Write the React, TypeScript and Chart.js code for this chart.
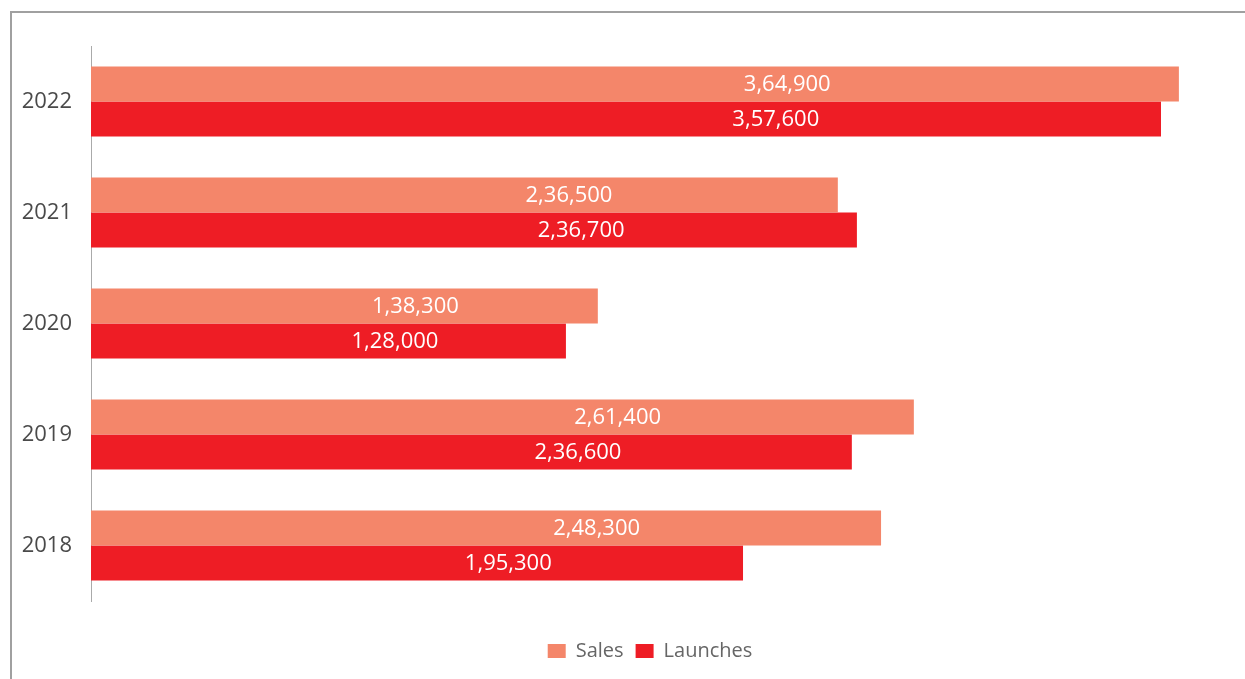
import React, { useEffect, useRef } from "react";
import { Chart, registerables } from "chart.js";
Chart.register(...registerables);

const years = ["2022", "2021", "2020", "2019", "2018"];
const salesValues = [364900, 250500, 170000, 276000, 265000];
const launchValues = [358900, 256900, 159300, 255200, 218700];
const salesLabels = ["3,64,900", "2,36,500", "1,38,300", "2,61,400", "2,48,300"];
const launchLabels = ["3,57,600", "2,36,700", "1,28,000", "2,36,600", "1,95,300"];

const SALES_COLOR = "#F4866A";
const LAUNCH_COLOR = "#EE1D25";
const FONT = "'Open Sans', sans-serif";

const valueLabelPlugin = {
  id: "valueLabels",
  afterDatasetsDraw(chart: any) {
    const ctx = chart.ctx;
    const all = [salesLabels, launchLabels];
    ctx.save();
    ctx.font = `22px ${FONT}`;
    ctx.fillStyle = "#ffffff";
    ctx.textAlign = "center";
    ctx.textBaseline = "middle";
    chart.data.datasets.forEach((_: any, i: number) => {
      const meta = chart.getDatasetMeta(i);
      meta.data.forEach((bar: any, j: number) => {
        const p = bar.getProps(["x", "y", "base"], true);
        const lx = p.base + (p.x - p.base) * 0.64;
        ctx.fillText(all[i][j], lx, p.y + 1);
      });
    });
    ctx.restore();
  },
};

export default function App() {
  const ref = useRef<HTMLCanvasElement | null>(null);
  useEffect(() => {
    if (!ref.current) return;
    const chart = new Chart(ref.current, {
      type: "bar",
      data: {
        labels: years,
        datasets: [
          { label: "Sales", data: salesValues, backgroundColor: SALES_COLOR, borderWidth: 0 },
          { label: "Launches", data: launchValues, backgroundColor: LAUNCH_COLOR, borderWidth: 0 },
        ],
      },
      options: {
        indexAxis: "y",
        animation: false,
        responsive: false,
        maintainAspectRatio: false,
        layout: { padding: { top: 46, right: 36, left: 0, bottom: 8 } },
        datasets: { bar: { categoryPercentage: 0.63, barPercentage: 1 } },
        scales: {
          x: {
            display: true,
            min: 0,
            max: 375000,
            ticks: { display: false },
            grid: { display: false },
            border: { display: false },
            afterFit: (s: any) => { s.height = 28; },
          },
          y: {
            ticks: { color: "#4a4a4a", font: { family: FONT, size: 22 }, padding: 19 },
            grid: { display: false, drawTicks: false },
            border: { display: true, color: "#aaaaaa", width: 1 },
            afterFit: (s: any) => { s.width = 91; },
          },
        },
        plugins: {
          legend: {
            position: "bottom",
            fullSize: false,
            labels: {
              boxWidth: 18,
              boxHeight: 14,
              padding: 12,
              color: "#666666",
              font: { family: FONT, size: 20 },
            },
          },
          tooltip: { enabled: false },
        },
      },
      plugins: [valueLabelPlugin],
    });
    return () => chart.destroy();
  }, []);
  return (
    <div style={{ position: "absolute", left: 0, top: 0, width: 1245, height: 679, background: "#fff", overflow: "hidden" }}>
      <div style={{ position: "absolute", left: 10, top: 11, right: 0, bottom: 0, borderTop: "2px solid #a0a0a0", borderLeft: "2px solid #a0a0a0" }} />
      <canvas ref={ref} width={1245} height={679} style={{ position: "absolute", left: 0, top: 0, width: 1245, height: 679 }} />
    </div>
  );
}
